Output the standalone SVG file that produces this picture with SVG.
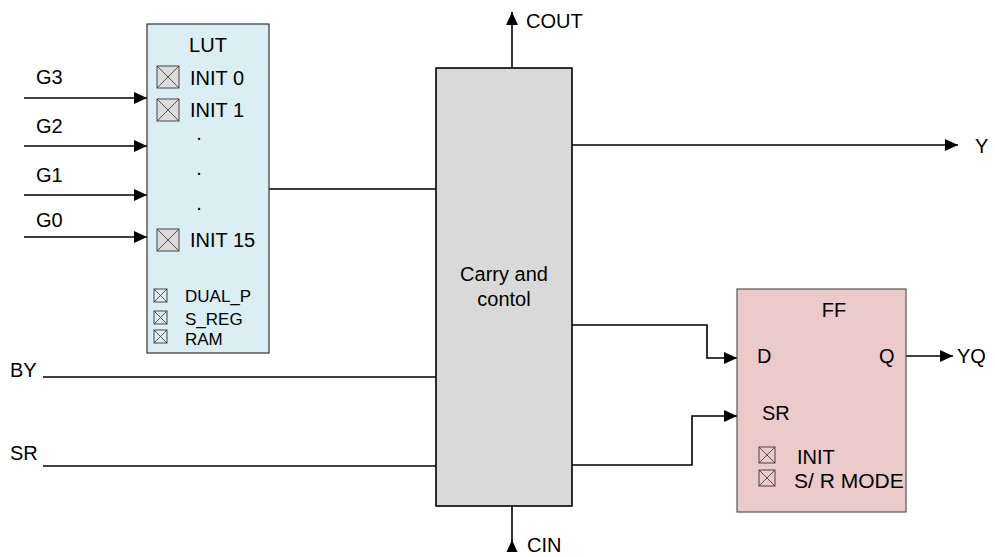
<svg xmlns="http://www.w3.org/2000/svg" width="995" height="557" viewBox="0 0 995 557">
<defs>
<marker id="ah" markerUnits="userSpaceOnUse" markerWidth="14" markerHeight="12" refX="13" refY="6" orient="auto">
<path d="M0,0 L13,6 L0,12 z" fill="#000"/>
</marker>
<style>
text{font-family:"Liberation Sans",Arial,sans-serif;fill:#000;}
.t{font-size:20px;}
.s{font-size:17px;}
.w{stroke:#000;stroke-width:1.6;fill:none;}
.cb{fill:#dcdcdc;stroke:#444;stroke-width:1;}
.cbs{fill:none;stroke:#444;stroke-width:1;}
.x{stroke:#444;stroke-width:0.9;}
</style>
</defs>
<rect width="995" height="557" fill="#fff"/>

<g id="connectors">
<path class="w" d="M24,98 H147" marker-end="url(#ah)"/>
<path class="w" d="M24,146 H147" marker-end="url(#ah)"/>
<path class="w" d="M24,195 H147" marker-end="url(#ah)"/>
<path class="w" d="M24,237 H147" marker-end="url(#ah)"/>
<path class="w" d="M269,189 H436"/>
<path class="w" d="M43,377 H436"/>
<path class="w" d="M43,466 H436"/>
<path class="w" d="M512,68 V12" marker-end="url(#ah)"/>
<path class="w" d="M512,506 V545"/>
<path d="M512,540 L506.5,552 L517.5,552 z" fill="#000"/>
<path class="w" d="M572,145 H958" marker-end="url(#ah)"/>
<path class="w" d="M572,325 H707 V358 H737" marker-end="url(#ah)"/>
<path class="w" d="M572,465 H692 V416 H737" marker-end="url(#ah)"/>
<path class="w" d="M906,356 H953" marker-end="url(#ah)"/>
</g>

<g id="labels">
<text class="t" x="36" y="84">G3</text>
<text class="t" x="36" y="133">G2</text>
<text class="t" x="36" y="182">G1</text>
<text class="t" x="36" y="227">G0</text>
<text class="t" x="10" y="377">BY</text>
<text class="t" x="10" y="460">SR</text>
<text class="t" x="526" y="28">COUT</text>
<text class="t" x="527" y="552">CIN</text>
<text class="t" x="975" y="153">Y</text>
<text class="t" x="957" y="363">YQ</text>
</g>

<g id="lut">
<rect x="147" y="24" width="122" height="329" fill="#daeef3" stroke="#333" stroke-width="1.2"/>
<text class="t" x="208" y="52" text-anchor="middle">LUT</text>
<rect class="cb" x="157" y="66" width="22" height="22"/><path class="x" d="M157,66 L179,88 M179,66 L157,88"/>
<text class="t" x="190" y="85">INIT 0</text>
<rect class="cb" x="157" y="99" width="22" height="22"/><path class="x" d="M157,99 L179,121 M179,99 L157,121"/>
<text class="t" x="190" y="117">INIT 1</text>
<text class="t" x="199" y="140" text-anchor="middle">.</text>
<text class="t" x="199" y="175" text-anchor="middle">.</text>
<text class="t" x="199" y="210" text-anchor="middle">.</text>
<rect class="cb" x="157" y="229" width="22" height="22"/><path class="x" d="M157,229 L179,251 M179,229 L157,251"/>
<text class="t" x="190" y="247">INIT 15</text>
<rect class="cbs" x="154" y="289" width="13" height="13"/><path class="x" d="M154,289 L167,302 M167,289 L154,302"/>
<text class="s" x="185" y="302">DUAL_P</text>
<rect class="cbs" x="154" y="311" width="13" height="13"/><path class="x" d="M154,311 L167,324 M167,311 L154,324"/>
<text class="s" x="185" y="325">S_REG</text>
<rect class="cbs" x="154" y="330" width="13" height="13"/><path class="x" d="M154,330 L167,343 M167,330 L154,343"/>
<text class="s" x="185" y="345">RAM</text>
</g>

<g id="carry">
<rect x="436" y="68" width="136" height="438" fill="#d9d9d9" stroke="#000" stroke-width="1.6"/>
<text class="t" x="504" y="281" text-anchor="middle">Carry and</text>
<text class="t" x="504" y="306" text-anchor="middle">contol</text>
</g>

<g id="ff">
<rect x="737" y="289" width="169" height="223" fill="#ebcaca" stroke="#555" stroke-width="1.2"/>
<text class="t" x="834" y="317" text-anchor="middle">FF</text>
<text class="t" x="757" y="363">D</text>
<text class="t" x="879" y="363">Q</text>
<text class="t" x="762" y="420">SR</text>
<rect class="cbs" x="759" y="447" width="16" height="16"/><path class="x" d="M759,447 L775,463 M775,447 L759,463"/>
<text class="t" x="797" y="464">INIT</text>
<rect class="cbs" x="759" y="470" width="16" height="16"/><path class="x" d="M759,470 L775,486 M775,470 L759,486"/>
<text class="t" x="794" y="488" style="font-size:21px">S/ R MODE</text>
</g>
</svg>
